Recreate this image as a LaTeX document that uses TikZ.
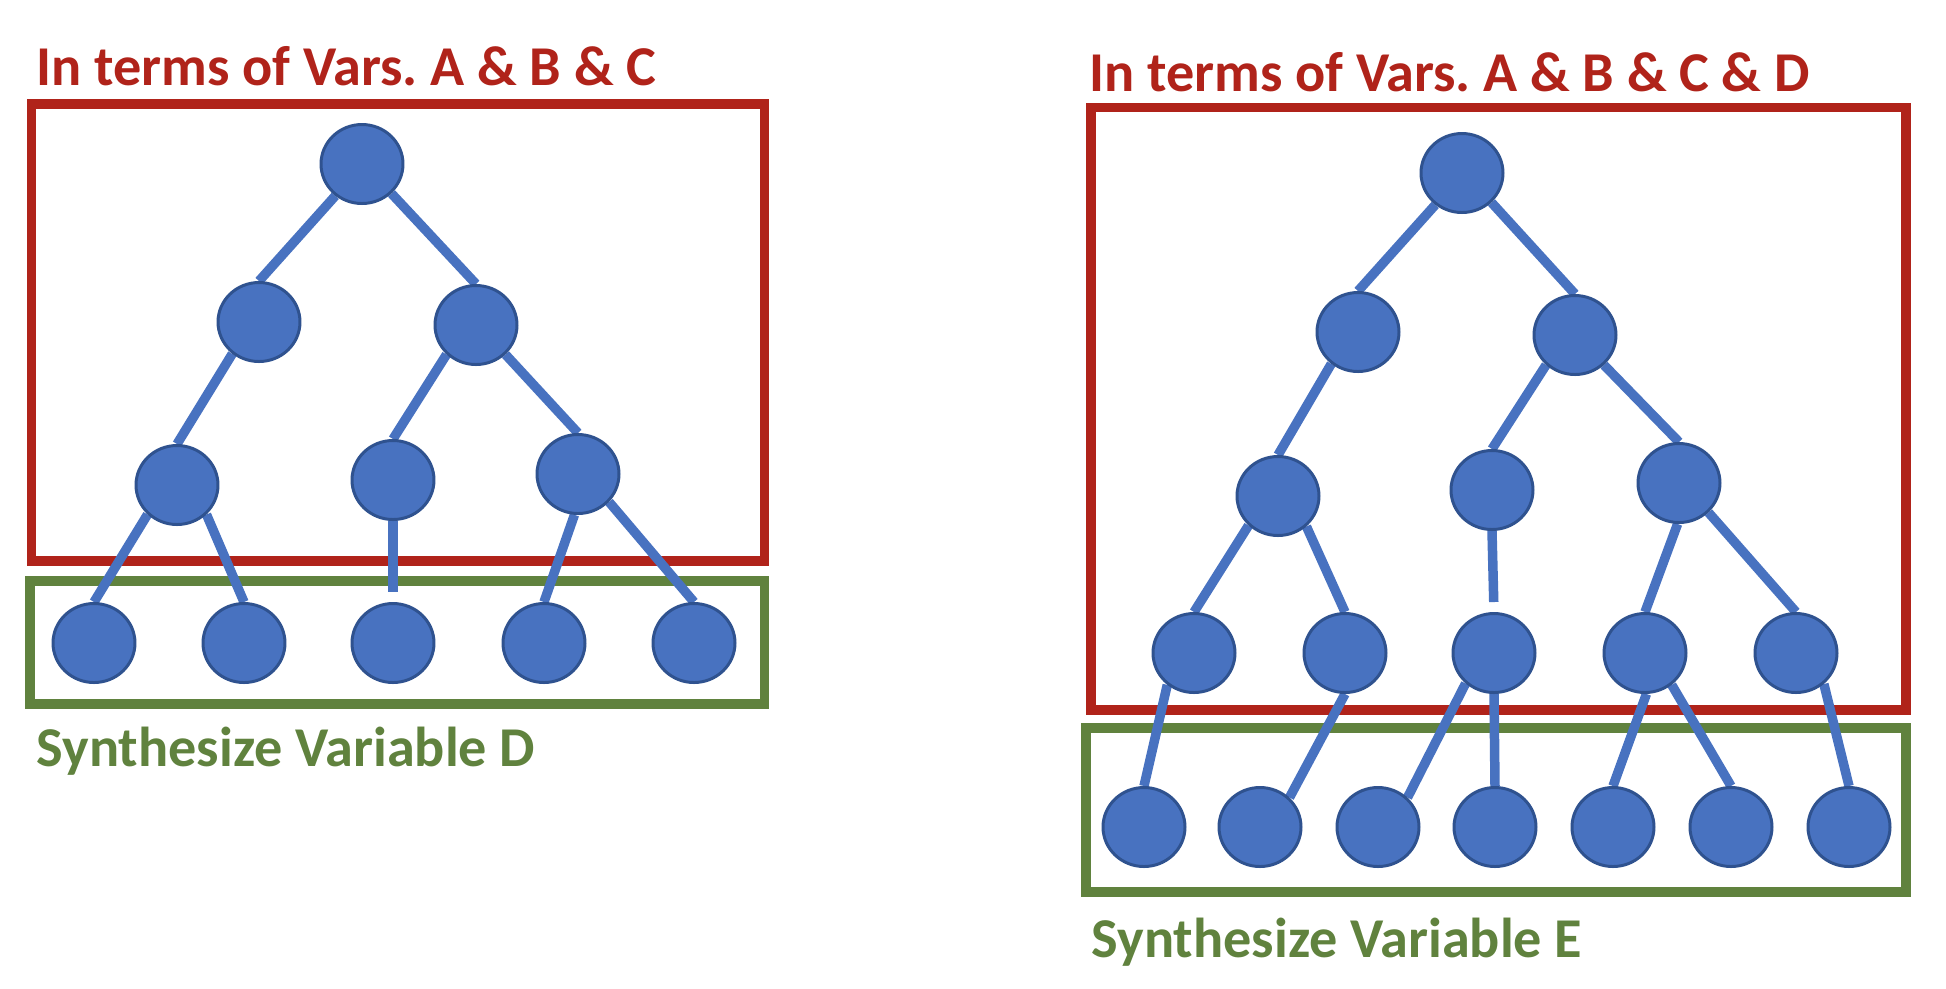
\documentclass[tikz,border=0pt]{standalone}
\usepackage{fontspec}
\setmainfont{Carlito}
\usepackage{tikz}
\usetikzlibrary{shapes.geometric}
\usetikzlibrary{backgrounds}

\definecolor{termred}{RGB}{176,35,26}
\definecolor{synthgreen}{RGB}{96,130,62}
\definecolor{varfill}{RGB}{72,114,192}
\definecolor{varline}{RGB}{47,82,143}

\frenchspacing
\begin{document}
\begin{tikzpicture}[x=0.1mm,y=-0.1mm,
		var/.style={ellipse, draw=varline, fill=varfill, line width=0.85pt, minimum width=8.2mm, minimum height=7.9mm, inner sep=0pt},
		link/.style={draw=varfill, line width=2.7pt},
		termbox/.style={draw=termred, line width=2.7pt},
		synthbox/.style={draw=synthgreen, line width=2.7pt},
		caption/.style={anchor=base west, inner sep=0pt, font=\fontsize{16}{19}\selectfont\bfseries}]
	\useasboundingbox (0,0) rectangle (1946,988);
	
	% left tree
	\node[var] (L0) at (362,164) {};
	\node[var] (L1a) at (259,322) {};
	\node[var] (L1b) at (476,325) {};
	\node[var] (L2a) at (177,485) {};
	\node[var] (L2b) at (393,480) {};
	\node[var] (L2c) at (578,474) {};
	\node[var] (L3a) at (94,643) {};
	\node[var] (L3b) at (244,643) {};
	\node[var] (L3c) at (393,643) {};
	\node[var] (L3d) at (544,643) {};
	\node[var] (L3e) at (694,643) {};
	
	% right tree
	\node[var] (R0) at (1462,173) {};
	\node[var] (R1a) at (1358,332) {};
	\node[var] (R1b) at (1575,335) {};
	\node[var] (R2a) at (1278,496) {};
	\node[var] (R2b) at (1492,490) {};
	\node[var] (R2c) at (1679,483) {};
	\node[var] (R3a) at (1194,653) {};
	\node[var] (R3b) at (1345,653) {};
	\node[var] (R3c) at (1494,653) {};
	\node[var] (R3d) at (1645,653) {};
	\node[var] (R3e) at (1796,653) {};
	\node[var] (R4a) at (1144,827) {};
	\node[var] (R4b) at (1260,827) {};
	\node[var] (R4c) at (1378,827) {};
	\node[var] (R4d) at (1495,827) {};
	\node[var] (R4e) at (1613,827) {};
	\node[var] (R4f) at (1731,827) {};
	\node[var] (R4g) at (1849,827) {};
	
	% labels
	\node[caption, termred] (termsL) at (36,85) {In terms of Vars. A \& B \& C};
	\node[caption, termred] (termsR) at (1089,91) {In terms of Vars. A \& B \& C \& D};
	\node[caption, synthgreen] (synthL) at (36,766) {Synthesize Variable D};
	\node[caption, synthgreen] (synthR) at (1091,957) {Synthesize Variable E};
	
	\begin{scope}[on background layer]
		\draw[termbox] (31.5,104) rectangle (764.5,561);
		\draw[synthbox] (30,581) rectangle (764.5,704);
		\draw[termbox] (1091,107.5) rectangle (1906,710);
		\draw[synthbox] (1086,728) rectangle (1906,892);
		
		\draw[link] (L0.-130) -- (L1a.north);
		\draw[link] (L0.-45) -- (L1b.north);
		\draw[link] (L1a.-130) -- (L2a.north);
		\draw[link] (L1b.-135) -- (L2b.north);
		\draw[link] (L1b.-45) -- (L2c.north);
		\draw[link] (L2a.-135) -- (L3a.north);
		\draw[link] (L2a.-45) -- (L3b.north);
		\draw[link, shorten >=1mm] (L2b.south) -- (L3c.north);
		\draw[link] (L2c.-95) -- (L3d.north);
		\draw[link] (L2c.-42) -- (L3e.north);
		
		\draw[link] (R0.-130) -- (R1a.north);
		\draw[link] (R0.-45) -- (R1b.north);
		\draw[link] (R1a.-130) -- (R2a.north);
		\draw[link] (R1b.-134) -- (R2b.north);
		\draw[link] (R1b.-46) -- (R2c.north);
		\draw[link] (R2a.-135) -- (R3a.north);
		\draw[link] (R2a.-47) -- (R3b.north);
		\draw[link, shorten >=1mm] (R2b.south) -- (R3c.north);
		\draw[link] (R2c.-92) -- (R3d.north);
		\draw[link] (R2c.-45) -- (R3e.north);
		\draw[link] (R3a.-130) -- (R4a.north);
		\draw[link] (R3b.south) -- (R4b.45);
		\draw[link] (R3c.-133) -- (R4c.45);
		\draw[link] (R3c.south) -- (R4d.north);
		\draw[link] (R3d.-88) -- (R4e.north);
		\draw[link] (R3d.-50) -- (R4f.north);
		\draw[link] (R3e.-48) -- (R4g.north);
	\end{scope}
\end{tikzpicture}
\end{document}
